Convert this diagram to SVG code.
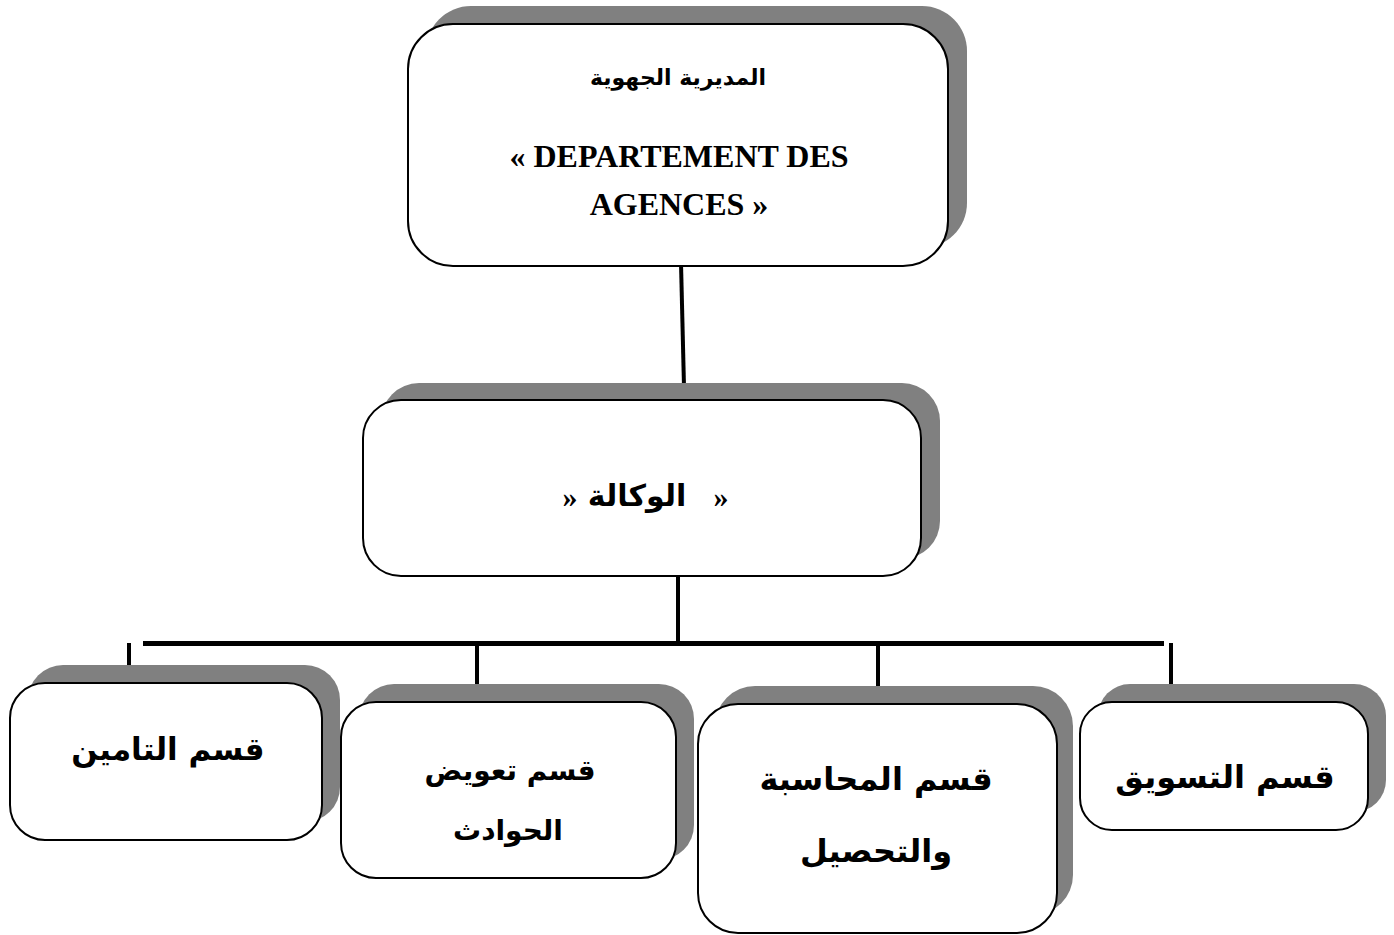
<svg xmlns="http://www.w3.org/2000/svg" width="1394" height="935" viewBox="0 0 1394 935">
  <style>
    .shadow { fill: #808080; }
    .box { fill: #ffffff; stroke: #000000; stroke-width: 2; }
    .line { stroke: #000000; fill: none; }
    .ar { font-family: "DejaVu Sans", "Liberation Sans", sans-serif; font-weight: bold; fill: #000000; text-anchor: middle; }
    .lat { font-family: "Liberation Serif", "Times New Roman", serif; font-weight: bold; fill: #000000; text-anchor: middle; }
  </style>

  <!-- connectors -->
  <g id="connectors">
    <line class="line" x1="681" y1="263" x2="684" y2="387" stroke-width="4"/>
    <line class="line" x1="678" y1="576" x2="678" y2="642" stroke-width="4"/>
    <line class="line" x1="143" y1="643.5" x2="1164" y2="643.5" stroke-width="5"/>
    <line class="line" x1="129" y1="643" x2="129" y2="684" stroke-width="4"/>
    <line class="line" x1="477" y1="643" x2="477" y2="703" stroke-width="4"/>
    <line class="line" x1="878" y1="643" x2="878" y2="687" stroke-width="4"/>
    <line class="line" x1="1171" y1="643" x2="1171" y2="687" stroke-width="4"/>
  </g>

  <!-- regional directorate -->
  <g id="node-direction">
    <rect class="shadow" x="426" y="6" width="541" height="242" rx="45"/>
    <rect class="box" x="408" y="24" width="540" height="242" rx="45"/>
    <text class="ar" x="678" y="85" font-size="22" direction="rtl">المديرية الجهوية</text>
    <text class="lat" x="679" y="167" font-size="32">« DEPARTEMENT DES</text>
    <text class="lat" x="679" y="215" font-size="32">AGENCES »</text>
  </g>

  <!-- agency -->
  <g id="node-agence">
    <rect class="shadow" x="381" y="383" width="559" height="176" rx="38"/>
    <rect class="box" x="363" y="400" width="558" height="176" rx="38"/>
    <text class="lat" x="570" y="507" font-size="30">»</text>
    <text class="ar" x="637" y="506" font-size="30" direction="rtl">الوكالة</text>
    <text class="lat" x="721" y="507" font-size="30">»</text>
  </g>

  <!-- insurance section -->
  <g id="node-assurance">
    <rect class="shadow" x="28" y="665" width="312" height="157" rx="35"/>
    <rect class="box" x="10" y="683" width="312" height="157" rx="35"/>
    <text class="ar" x="168" y="760" font-size="31" direction="rtl">قسم التامين</text>
  </g>

  <!-- claims compensation section -->
  <g id="node-sinistres">
    <rect class="shadow" x="359" y="684" width="335" height="176" rx="35"/>
    <rect class="box" x="341" y="702" width="335" height="176" rx="35"/>
    <text class="ar" x="510" y="780" font-size="28" direction="rtl">قسم تعويض</text>
    <text class="ar" x="508" y="840" font-size="28" direction="rtl">الحوادث</text>
  </g>

  <!-- accounting and collection section -->
  <g id="node-comptabilite">
    <rect class="shadow" x="715" y="686" width="358" height="229" rx="40"/>
    <rect class="box" x="698" y="704" width="359" height="229" rx="40"/>
    <text class="ar" x="876" y="790" font-size="32" direction="rtl">قسم المحاسبة</text>
    <text class="ar" x="876" y="862" font-size="32" direction="rtl">والتحصيل</text>
  </g>

  <!-- marketing section -->
  <g id="node-marketing">
    <rect class="shadow" x="1098" y="684" width="288" height="128" rx="32"/>
    <rect class="box" x="1080" y="702" width="288" height="128" rx="32"/>
    <text class="ar" x="1225" y="788" font-size="32" direction="rtl">قسم التسويق</text>
  </g>
</svg>
